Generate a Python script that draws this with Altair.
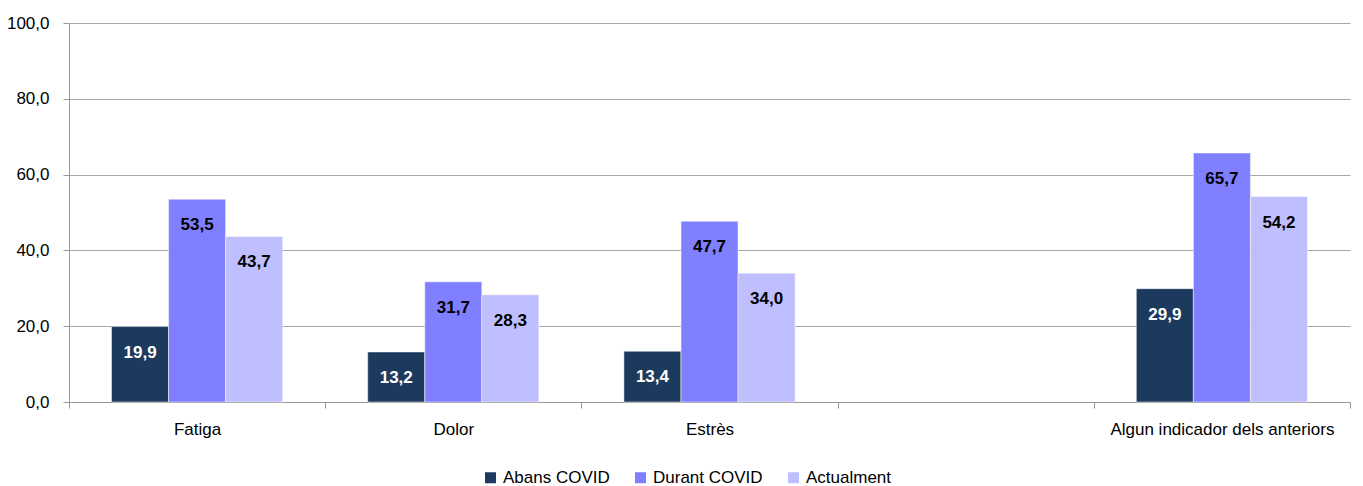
import altair as alt
import pandas as pd

axis_domain = ["Fatiga", "Dolor", "Estrès", " ", "Algun indicador dels anteriors"]
categories = ["Fatiga", "Dolor", "Estrès", "Algun indicador dels anteriors"]
series = ["Abans COVID", "Durant COVID", "Actualment"]
abans = [19.9, 13.2, 13.4, 29.9]
durant = [53.5, 31.7, 47.7, 65.7]
actual = [43.7, 28.3, 34.0, 54.2]
colors = ["#1B3A5E", "#7F7FFF", "#BFBFFF"]

rows = []
for s, vals in zip(series, [abans, durant, actual]):
    for c, v in zip(categories, vals):
        rows.append({"cat": c, "series": s, "value": v,
                     "label": f"{v:.1f}".replace(".", ",")})
df = pd.DataFrame(rows)

FONT = "Liberation Sans"

x = alt.X("cat:N",
          scale=alt.Scale(domain=axis_domain, paddingInner=0, paddingOuter=0),
          axis=alt.Axis(title=None, labelAngle=0, tickBand="extent", grid=False,
                        labelFontSize=17, labelColor="#000", labelFont=FONT, labelLimit=0,
                        domainColor="#999", tickColor="#999", tickSize=6,
                        labelPadding=13))
xo = alt.XOffset("series:N", scale=alt.Scale(domain=series, paddingInner=0, paddingOuter=0.745))
y = alt.Y("value:Q",
          scale=alt.Scale(domain=[0, 100]),
          axis=alt.Axis(title=None, values=[0, 20, 40, 60, 80, 100],
                        labelExpr="replace(format(datum.value, '.1f'), '.', ',')",
                        labelFontSize=17, labelColor="#000", labelFont=FONT,
                        gridColor="#A6A6A6", domainColor="#999", tickColor="#999",
                        tickSize=6, labelPadding=14))

bars = alt.Chart(df).mark_bar(stroke="white", strokeWidth=0.5).encode(
    x=x, xOffset=xo, y=y,
    color=alt.Color("series:N", scale=alt.Scale(domain=series, range=colors),
                    legend=alt.Legend(title=None, orient="none", direction="horizontal",
                                      legendX=413, legendY=446,
                                      symbolType="square", symbolSize=121,
                                      labelFontSize=17, labelFont=FONT, labelColor="#000",
                                      columnPadding=22, symbolStrokeWidth=0)),
)

text = alt.Chart(df).mark_text(font=FONT, fontWeight="bold", fontSize=17,
                               baseline="middle", dy=26).encode(
    x=x, xOffset=xo, y=y, text="label:N",
    color=alt.condition(alt.datum.series == "Abans COVID", alt.value("white"), alt.value("black")),
)

chart = alt.layer(bars, text).properties(
    width=1281, height=379,
    autosize=alt.AutoSizeParams(type="none"),
    padding={"left": 61, "top": 15, "right": 5, "bottom": 84},
).configure_view(stroke=None)

chart.save("out.html", embed_options={"renderer": "svg", "actions": False})
